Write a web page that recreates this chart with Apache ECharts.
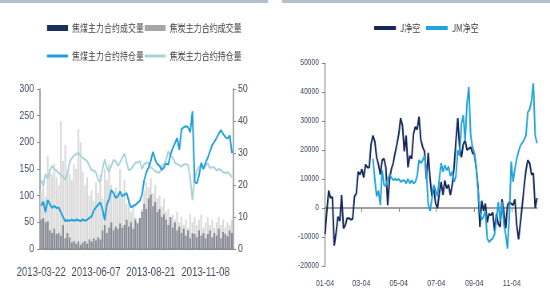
<!DOCTYPE html>
<html><head><meta charset="utf-8">
<script src="https://cdn.jsdelivr.net/npm/echarts@6/dist/echarts.min.js"></script>
<style>
html,body{margin:0;padding:0;background:#fff;overflow:hidden;width:550px;height:300px}
#wrap{width:550px;height:300px;overflow:hidden;position:relative}
#c{width:688px;height:300px;transform:scaleX(0.79942);transform-origin:0 0;position:absolute;left:0;top:0}
</style>
</head><body><div id="wrap"><div id="c"></div></div>
<script>
// ---------- Left chart: volume (bars, left axis) & open interest (lines, right axis) ----------
const leftDates = ['2013-03-22','2013-03-26','2013-03-28','2013-04-01','2013-04-03','2013-04-09','2013-04-11','2013-04-15','2013-04-17','2013-04-19',
'2013-04-23','2013-04-25','2013-05-02','2013-05-06','2013-05-08','2013-05-10','2013-05-14','2013-05-16','2013-05-20','2013-05-22',
'2013-05-24','2013-05-28','2013-05-30','2013-06-03','2013-06-05','2013-06-07','2013-06-14','2013-06-18','2013-06-20','2013-06-24',
'2013-06-26','2013-06-28','2013-07-02','2013-07-04','2013-07-08','2013-07-10','2013-07-12','2013-07-16','2013-07-18','2013-07-22',
'2013-07-24','2013-07-26','2013-07-30','2013-08-01','2013-08-05','2013-08-07','2013-08-09','2013-08-13','2013-08-15','2013-08-19',
'2013-08-21','2013-08-23','2013-08-27','2013-08-29','2013-09-02','2013-09-04','2013-09-06','2013-09-10','2013-09-12','2013-09-16',
'2013-09-18','2013-09-23','2013-09-25','2013-09-27','2013-10-09','2013-10-11','2013-10-15','2013-10-17','2013-10-21','2013-10-23',
'2013-10-25','2013-10-29','2013-10-31','2013-11-04','2013-11-06','2013-11-08','2013-11-12','2013-11-14','2013-11-18','2013-11-20',
'2013-11-22','2013-11-26','2013-11-28','2013-12-02','2013-12-04','2013-12-06','2013-12-10','2013-12-12'];
const coalVolume = [55,58,50,52,35,30,38,28,30,25,45,20,30,22,12,15,10,14,8,12,15,10,18,14,20,16,22,18,
35,45,30,40,50,35,42,38,48,40,45,55,42,50,38,55,48,58,70,85,75,95,102,80,88,70,75,60,
65,55,45,60,40,50,35,42,30,38,25,35,20,30,28,22,35,25,30,20,28,35,22,30,25,38,20,32,28,24,35,30];
const cokeVolume = [110,130,100,175,150,140,160,135,120,240,165,195,150,140,130,160,150,225,200,145,
120,135,100,110,90,125,105,140,95,150,130,160,120,100,115,105,150,100,130,85,
95,70,80,60,50,55,75,110,125,115,133,105,120,95,100,80,95,70,75,60,
65,55,70,50,60,45,55,40,65,50,60,45,55,65,40,50,60,45,55,40,50,60,45,55,40,50,45,55];
const coalOI = [13.5,14.8,11.5,15.3,14,12.8,13.5,12.8,13,11.5,10,8.7,9,8.8,9.2,8.8,9.2,9,8.7,9.3,
8.8,9.2,9.7,10.1,12,13,13.8,14.5,12.5,9,14,15.6,18.4,17.5,16,16.5,18,16.5,17,17.5,
14.8,13,13.5,13.8,14.4,15,17,21.5,24,25.5,27.5,30.4,28,26.5,26,24.7,25.5,26.8,26.3,29.5,
31.5,33,34.7,31,37.5,38,38.4,38,36.5,43,21,20.5,23,27,25,27,28.5,30.5,32.5,33.5,
34.7,36,37.2,36,35,34.5,35.5,30];
const cokeOI = [21.5,19.8,23.5,22,24.5,26,25,24.5,23.7,23.2,22.5,21.7,23.5,27,28.4,29.2,29.6,30,29.2,28.5,
28,27.5,26,24.7,24.5,24,21.5,21,25,28,25.5,24,26,27.8,27.5,26,27,28.5,29.8,27,
24.5,25,26,27,27,27.5,25,26.5,27,26.8,25.5,25,24.3,24,23.8,26,26.5,28,30.5,29.5,
28.5,27,26.5,26.2,25.7,26.5,26.5,26.2,22,15.3,22,24.5,25.7,26.2,25.3,26,26.8,25.3,25.6,25.5,
24.5,25,24.7,24,23.7,24,23.4,22.5];
const leftNames = ['焦煤主力合约成交量','焦炭主力合约成交量','焦煤主力合约持仓量','焦炭主力合约持仓量'];

// ---------- Right chart: net short positions ----------
const rightDays = [4,7,10,13,16,19,22,25,28,31,34,37,40,43,46,49,52,55,58,61,64,67,70,73,76,79,82,85,88,91,94,97,100,103,106,109,112,115,118,121,124,127,130,133,136,139,142,145,148,151,154,157,160,163,166,169,172,175,178,181,184,187,190,193,196,199,202,205,208,211,214,217,220,223,226,229,232,235,238,241,244,247,250,253,256,259,262,265,268,271,274,277,280,283,286,289,292,295,298,301,304,307,310,313,316,319,322,325,328,331,334,337,340,343,346,349];
const jNet = [-9000,-1000,6000,3500,3800,-13000,-8500,-3000,-4500,4500,-7000,-6000,-3500,-3500,-4000,-3800,4000,5000,12500,11500,
13400,10500,15000,14000,14000,22000,25000,23000,17500,15000,11500,16500,17000,14000,1000,10000,13500,15500,19000,22000,
25500,31000,28500,19500,25000,14000,18000,17000,25500,28000,27000,31500,23500,21000,19500,10000,19000,
10000,4000,7000,1500,0,5000,9000,4500,9500,6700,8000,4500,8000,14000,23000,31000,21000,17500,22000,23500,
20000,20500,21000,19000,18500,14000,7000,-6500,2500,-1000,1500,-5000,-2000,-2500,-1500,-8000,-2000,-5500,-6500,3000,
-1000,-7000,900,2000,1500,1000,3000,-6000,-10800,-5000,1000,7500,13000,16500,15500,11500,12000,0,3500];
const jmNet = [null,null,null,null,null,null,null,null,null,null,null,null,null,null,null,null,null,null,null,null,null,null,null,null,null,null,
17000,10000,4000,6000,1000,13000,8000,7500,10000,11500,10500,9600,10000,9600,10000,9000,9500,9500,8500,10000,
8500,9500,8500,9000,11000,16500,15500,16500,18000,12500,1000,-1000,3200,8000,6000,4000,10000,15500,12500,14800,
13000,14300,11000,12500,9000,11000,20000,18000,29000,32000,23000,36000,41800,25000,21000,19000,14000,6000,-1400,-4000,
-3000,-1000,-10500,-11700,-11000,-10500,-9000,-4000,2000,-4500,2000,-5500,-9000,-14000,-2500,16000,9000,13500,17000,19500,
21500,22500,23500,25000,33000,34000,37000,43000,25000,22300];
const rightNames = ['J净空','JM净空'];
const rightTickDays = [4,63,124,185,247,308];
const rightTickLabels = ['01-04','03-04','05-04','07-04','09-04','11-04'];

// The reference picture is horizontally compressed; the chart is laid out 688px wide
// and squeezed to 550px with CSS, so every horizontal measure below is in 688px space.
const SX = 688 / 550;
const LATIN = "'Liberation Sans',Arial,sans-serif";
const CJK = "'Noto Sans CJK SC','Noto Sans CJK JP',sans-serif";
const labelColor = '#3e4a5c';
const axisGray = '#8a8a8a';

const chart = echarts.init(document.getElementById('c'));
chart.setOption({
  animation: false,
  graphic: [
    {type:'rect', shape:{x:0,y:0,width:268*SX,height:3}, style:{fill:'#b4bfcc'}},
    {type:'rect', shape:{x:282*SX,y:0,width:268*SX,height:3}, style:{fill:'#b4bfcc'}}
  ],
  legend: [
    {left:43*SX, top:18, itemWidth:21*SX, itemHeight:6, itemGap:1, icon:'rect',
     textStyle:{fontSize:10, fontFamily:CJK, color:'#404040'},
     data:[{name:leftNames[0], itemStyle:{color:'#1b2e5c'}},{name:leftNames[1], itemStyle:{color:'#a6a6a6'}}]},
    {left:43*SX, top:46, itemWidth:21*SX, itemHeight:3, itemGap:1, icon:'rect',
     textStyle:{fontSize:10, fontFamily:CJK, color:'#404040'},
     data:[leftNames[2], leftNames[3]]},
    {left:370*SX, top:18, itemWidth:22*SX, itemHeight:4, itemGap:7, icon:'roundRect',
     textStyle:{fontSize:10, fontFamily:CJK, color:'#404040'},
     data:rightNames}
  ],
  grid: [
    {left:40*SX, top:89, width:193*SX, height:160},
    {left:325*SX, top:63, width:212*SX, height:203}
  ],
  xAxis: [
    {gridIndex:0, type:'category', data:leftDates, boundaryGap:true,
     axisLine:{lineStyle:{color:axisGray, width:2}},
     axisTick:{interval:2, length:4, lineStyle:{color:'#6f6f6f', width:2}},
     axisLabel:{interval:24, margin:18, fontSize:12, fontFamily:LATIN, color:labelColor, hideOverlap:false},
     splitLine:{show:false}},
    {gridIndex:1, type:'value', min:4, max:349, position:'bottom',
     axisLine:{onZero:true, lineStyle:{color:'#808080', width:1.5}},
     axisTick:{show:true, customValues:rightTickDays, length:4, lineStyle:{color:'#808080'}},
     axisLabel:{show:false}, splitLine:{show:false}},
    {gridIndex:1, type:'value', min:4, max:349, position:'bottom',
     axisLine:{show:false, onZero:false}, axisTick:{show:false}, splitLine:{show:false},
     axisLabel:{customValues:rightTickDays, margin:13, fontSize:9, fontFamily:LATIN, color:labelColor,
       formatter:function(v){ const k = rightTickDays.indexOf(v); return k >= 0 ? rightTickLabels[k] : ''; }}}
  ],
  yAxis: [
    {gridIndex:0, type:'value', min:0, max:300, interval:50,
     axisLine:{show:true, lineStyle:{color:axisGray, width:1.5}},
     axisTick:{show:true, length:3*SX, lineStyle:{color:axisGray}},
     axisLabel:{margin:6*SX, fontSize:11, fontFamily:LATIN, color:labelColor}, splitLine:{show:false}},
    {gridIndex:0, type:'value', position:'right', min:0, max:50, interval:10,
     axisLine:{show:true, lineStyle:{color:axisGray, width:1.5}},
     axisTick:{show:true, length:3*SX, lineStyle:{color:axisGray}},
     axisLabel:{margin:5*SX, fontSize:11, fontFamily:LATIN, color:labelColor}, splitLine:{show:false}},
    {gridIndex:1, type:'value', min:-20000, max:50000, interval:10000,
     axisLine:{show:true, lineStyle:{color:'#808080', width:1.2}},
     axisTick:{show:true, length:3*SX, lineStyle:{color:'#808080'}},
     axisLabel:{margin:6*SX, fontSize:8.5, fontFamily:LATIN, color:labelColor,
       formatter:function(v){ return String(v); }}, splitLine:{show:false}}
  ],
  series: [
    {name:leftNames[1], type:'bar', xAxisIndex:0, yAxisIndex:0, data:cokeVolume,
     itemStyle:{color:'#dadada'}, barGap:'-100%', barCategoryGap:'20%'},
    {name:leftNames[0], type:'bar', xAxisIndex:0, yAxisIndex:0, data:coalVolume,
     itemStyle:{color:'#868a94'}, barGap:'-100%', barCategoryGap:'20%'},
    {name:leftNames[3], type:'line', xAxisIndex:0, yAxisIndex:1, data:cokeOI, symbol:'none',
     lineStyle:{color:'#a8d2dc', width:2}, itemStyle:{color:'#a8d2dc'}},
    {name:leftNames[2], type:'line', xAxisIndex:0, yAxisIndex:1, data:coalOI, symbol:'none',
     lineStyle:{color:'#1c9fda', width:2}, itemStyle:{color:'#1c9fda'}},
    {name:rightNames[0], type:'line', xAxisIndex:1, yAxisIndex:2, symbol:'none',
     data:rightDays.map((d,i)=>[d,jNet[i]]),
     lineStyle:{color:'#14275a', width:2}, itemStyle:{color:'#14275a'}},
    {name:rightNames[1], type:'line', xAxisIndex:1, yAxisIndex:2, symbol:'none', connectNulls:false,
     data:rightDays.map((d,i)=>[d,jmNet[i]]),
     lineStyle:{color:'#1fa3dd', width:2}, itemStyle:{color:'#1fa3dd'}}
  ]
});
</script></body></html>
